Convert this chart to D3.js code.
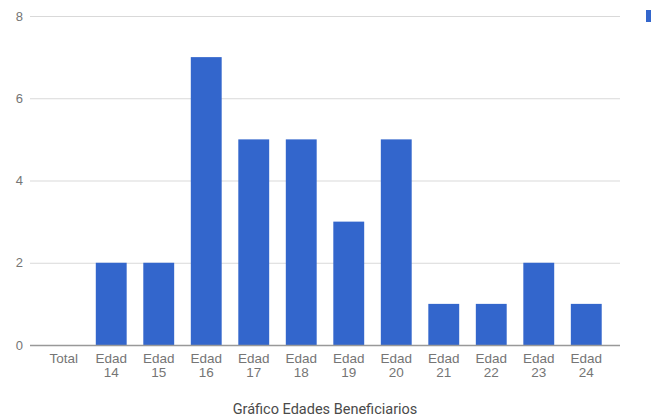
<!DOCTYPE html>
<html>
<head>
<meta charset="utf-8">
<script src="https://cdn.jsdelivr.net/npm/d3@7"></script>
<style>
  body { margin: 0; background: #fff; }
  svg { display: block; font-family: Roboto, "Open Sans", Arial, sans-serif; }
</style>
</head>
<body>
<svg id="chart" width="651" height="420"></svg>
<script>
// Beneficiaries by age
const categories = ["Total", "Edad 14", "Edad 15", "Edad 16", "Edad 17", "Edad 18", "Edad 19", "Edad 20", "Edad 21", "Edad 22", "Edad 23", "Edad 24"];
const values = [0, 2, 2, 7, 5, 5, 3, 5, 1, 1, 2, 1];
const yTicks = [0, 2, 4, 6, 8];
const chartTitle = "Gráfico Edades Beneficiarios";

(function draw() {
  const svg = d3.select("#chart");
  const m = { left: 30, right: 620, top: 16, bottom: 345 };

  const x = d3.scaleBand()
    .domain(categories)
    .range([m.left, m.right])
    .paddingInner(0.35)
    .paddingOuter(0.385);

  const y = d3.scaleLinear().domain([0, 8]).range([m.bottom, m.top]);

  // gridlines and value labels
  const yAxis = d3.axisLeft(y).tickValues(yTicks).tickSize(-(m.right - m.left)).tickPadding(7);
  const gy = svg.append("g").attr("transform", `translate(${m.left},0)`).call(yAxis);
  gy.select(".domain").remove();
  gy.selectAll(".tick line").attr("stroke", "#d9d9d9").attr("stroke-width", 1);
  gy.selectAll(".tick text").attr("fill", "#757575").attr("font-size", 13);

  // bars
  svg.append("g").selectAll("rect")
    .data(values)
    .join("rect")
    .attr("x", (d, i) => x(categories[i]))
    .attr("y", d => y(d))
    .attr("width", x.bandwidth())
    .attr("height", d => y(0) - y(d))
    .attr("fill", "#3366cc");

  // baseline
  svg.append("line")
    .attr("x1", m.left).attr("x2", m.right)
    .attr("y1", y(0) + 0.5).attr("y2", y(0) + 0.5)
    .attr("stroke", "#999").attr("stroke-width", 1.5);

  // category labels, split on two lines
  const xAxis = d3.axisBottom(x).tickSize(0).tickPadding(0);
  const gx = svg.append("g").attr("transform", `translate(0,${m.bottom})`).call(xAxis);
  gx.select(".domain").remove();
  gx.selectAll(".tick text").each(function(d) {
    const t = d3.select(this);
    const parts = d.split(" ");
    t.text(null).attr("fill", "#757575").attr("font-size", 13.5).attr("y", 0).attr("dy", null);
    parts.forEach((p, k) => {
      t.append("tspan").attr("x", 0).attr("y", 18 + k * 14).text(p);
    });
  });

  // axis title
  svg.append("text")
    .attr("x", 325).attr("y", 414)
    .attr("text-anchor", "middle")
    .attr("fill", "#4a4a4a").attr("font-size", 14.5)
    .text(chartTitle);

  // legend swatch
  svg.append("rect").attr("x", 646).attr("y", 10).attr("width", 12).attr("height", 12).attr("fill", "#3366cc");
})();
</script>
</body>
</html>
